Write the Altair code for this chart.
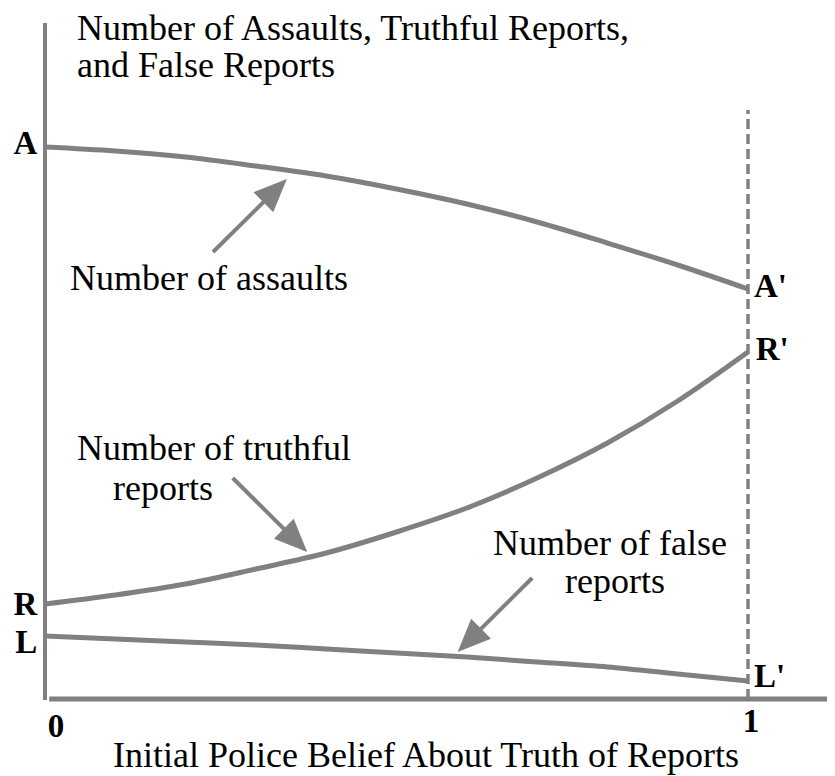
import math
import altair as alt
import pandas as pd

# ---- data ----
belief = [0.0, 0.1, 0.2, 0.3, 0.4, 0.5, 0.6, 0.7, 0.8, 0.9, 1.0]
assaults = [552, 548, 542, 533, 523, 510, 495, 477, 456, 434, 410]
truthful = [95, 104, 115, 130, 146, 167, 191, 221, 256, 298, 347]
false_reports = [63, 60, 57, 54, 50, 46, 42, 37, 32, 25, 18]

# annotation arrows (tail -> tip), in data units
arrow_tail_x = [0.239, 0.267, 0.693]
arrow_tail_y = [447, 221, 121]
arrow_tip_x = [0.344, 0.373, 0.587]
arrow_tip_y = [520, 147, 47]

# bold point labels
bold_right_text = ["A", "R", "L"]
bold_right_x = [-0.011, -0.011, -0.011]
bold_right_y = [545, 84, 46]

bold_left_text = ["A'", "R'", "L'"]
bold_left_x = [1.0085, 1.011, 1.0085]
bold_left_y = [402, 339, 12]

bold_center_text = ["0", "1"]
bold_center_x = [0.0156, 1.0043]
bold_center_y = [-38, -33]

reg_left_text = ["Number of Assaults, Truthful Reports,", "and False Reports",
                 "Number of assaults", "Number of truthful", "reports"]
reg_left_x = [0.0455, 0.0455, 0.0356, 0.0455, 0.0967]
reg_left_y = [659, 622, 409, 239, 199]

reg_center_text = ["Number of false", "reports", "Initial Police Belief About Truth of Reports"]
reg_center_x = [0.8037, 0.8108, 0.542]
reg_center_y = [144, 106, -68]

# ---- layout ----
W, H = 819, 768
XMIN, XMAX = -0.05263, 1.11238
YMIN, YMAX = -77, 691
GRAY = "#808080"
FONT = "Liberation Serif"

xs = alt.Scale(domain=[XMIN, XMAX], nice=False, zero=False)
ys = alt.Scale(domain=[YMIN, YMAX], nice=False, zero=False)

def X(f):
    return alt.X(f, type="quantitative", scale=xs, axis=None)

def Y(f):
    return alt.Y(f, type="quantitative", scale=ys, axis=None)

curves = pd.DataFrame({
    "x": belief * 3,
    "y": assaults + truthful + false_reports,
    "s": ["assaults"] * len(belief) + ["truthful"] * len(belief) + ["false"] * len(belief),
})

line_layer = alt.Chart(curves).mark_line(
    color=GRAY, strokeWidth=5, interpolate="monotone"
).encode(x=X("x"), y=Y("y"), detail="s:N")

# axis lines
vrules = pd.DataFrame({"x": [0.0], "y": [-1.0], "y2": [676.0]})
yaxis = alt.Chart(vrules).mark_rule(color=GRAY, strokeWidth=4).encode(
    x=X("x"), y=Y("y"), y2="y2")
hrules = pd.DataFrame({"x": [0.006], "x2": [XMAX], "y": [0.0]})
xaxis = alt.Chart(hrules).mark_rule(color=GRAY, strokeWidth=5).encode(
    x=X("x"), x2="x2", y=Y("y"))
drules = pd.DataFrame({"x": [1.0], "y": [0.0], "y2": [589.0]})
dashed = alt.Chart(drules).mark_rule(color=GRAY, strokeWidth=3.5, strokeDash=[10, 5]).encode(
    x=X("x"), y=Y("y"), y2="y2")

# arrows
px_x = W / (XMAX - XMIN)
px_y = H / (YMAX - YMIN)
HEAD_LEN = 33.0
rows = []
for tx, ty, hx, hy in zip(arrow_tail_x, arrow_tail_y, arrow_tip_x, arrow_tip_y):
    dxp = (hx - tx) * px_x
    dyp = (hy - ty) * px_y
    length = math.hypot(dxp, dyp)
    f = (HEAD_LEN - 4) / length
    ex = hx - f * (hx - tx)
    ey = hy - f * (hy - ty)
    ang = (math.degrees(math.atan2(dxp, dyp)) + 360) % 360
    rows.append({"tx": tx, "ty": ty, "ex": ex, "ey": ey, "hx": hx, "hy": hy, "angle": ang})
arrows = pd.DataFrame(rows)

shafts = alt.Chart(arrows).mark_rule(color=GRAY, strokeWidth=4).encode(
    x=X("tx"), y=Y("ty"), x2="ex", y2="ey")
heads = alt.Chart(arrows).mark_point(
    shape="M0,0 L-0.85,2 L0.85,2 Z", size=HEAD_LEN ** 2, filled=True,
    color=GRAY, opacity=1, strokeWidth=0
).encode(x=X("hx"), y=Y("hy"), angle=alt.Angle("angle:Q", scale=None))

def text_layer(texts, xs_, ys_, align, bold, size):
    df = pd.DataFrame({"x": xs_, "y": ys_, "t": texts})
    return alt.Chart(df).mark_text(
        font=FONT, fontSize=size, fontWeight="bold" if bold else "normal",
        align=align, baseline="alphabetic", color="black"
    ).encode(x=X("x"), y=Y("y"), text="t:N")

t1 = text_layer(bold_right_text, bold_right_x, bold_right_y, "right", True, 33)
t2 = text_layer(bold_left_text, bold_left_x, bold_left_y, "left", True, 33)
t3 = text_layer(bold_center_text, bold_center_x, bold_center_y, "center", True, 33)
t4 = text_layer(reg_left_text, reg_left_x, reg_left_y, "left", False, 36)
t5 = text_layer(reg_center_text, reg_center_x, reg_center_y, "center", False, 36)

chart = alt.layer(
    yaxis, xaxis, dashed, line_layer, shafts, heads, t1, t2, t3, t4, t5
).properties(
    width=W, height=H, padding=0,
    autosize=alt.AutoSizeParams(type="none"),
).configure_view(stroke=None)

chart.save("out.html", embed_options={"renderer": "svg", "actions": False})
